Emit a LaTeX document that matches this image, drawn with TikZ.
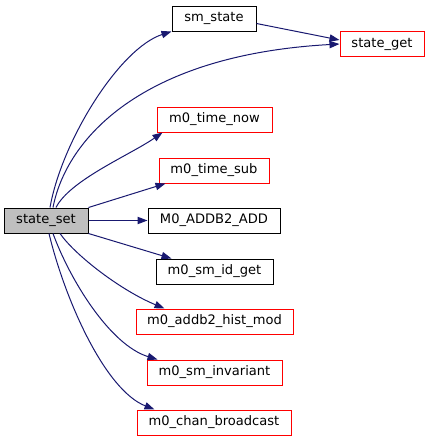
\documentclass[tikz,border=0pt]{standalone}
\usepackage{fontspec}
\setmainfont{DejaVu Sans}
\usetikzlibrary{arrows.meta,calc}
\definecolor{edgeblue}{HTML}{191970}
\definecolor{cur}{HTML}{BFBFBF}
\tikzset{
  fn/.style={draw=black,line width=0.75pt,fill=white,minimum height=18.75pt,inner sep=0pt,
    font=\fontsize{9.8pt}{11pt}\selectfont},
  fnred/.style={fn,draw=red},
  wd/.style={minimum width=#1*0.75pt},
  call/.style={draw=edgeblue,line width=0.75pt,-{Triangle[length=7.5pt,width=5.5pt]}}
}
\begin{document}
\begin{tikzpicture}[x=0.75pt,y=-0.75pt]
\useasboundingbox (0,0) rectangle (429,443);
\node[fn,fill=cur,wd=84] (ss) at (46,220.5) {state\_set};
\node[fn,wd=84] (sms) at (214,18.5) {sm\_state};
\node[fnred,wd=84] (sg) at (382,44) {state\_get};
\node[fnred,wd=115] (tn) at (214.5,119.5) {m0\_time\_now};
\node[fnred,wd=110] (ts) at (214,170.5) {m0\_time\_sub};
\node[fn,wd=132] (add) at (214,220.5) {M0\_ADDB2\_ADD};
\node[fn,wd=117] (sid) at (214.5,271.5) {m0\_sm\_id\_get};
\node[fnred,wd=157] (hm) at (214.5,321.5) {m0\_addb2\_hist\_mod};
\node[fnred,wd=135] (inv) at (214.5,372.5) {m0\_sm\_invariant};
\node[fnred,wd=154] (cb) at (214,422.5) {m0\_chan\_broadcast};

\draw[call] ($(ss.north)+(4,0)$) .. controls (62,140) and (120,48) .. (sms.south west);
\draw[call] ($(ss.north)+(7,0)$) .. controls (66,140) and (140,55) .. (sg.west);
\draw[call] ($(sms.east)+(0,5)$) -- ($(sg.west)+(0,-4)$);
\draw[call] ($(ss.north)+(10,0)$) .. controls (70,180) and (130,155) .. ($(tn.south west)+(6,0)$);
\draw[call] (ss.north east) -- ($(ts.south west)+(7,0)$);
\draw[call] (ss.east) -- (add.west);
\draw[call] (ss.south east) -- ($(sid.north west)+(16,0)$);
\draw[call] ($(ss.south)+(14,0)$) .. controls (75,255) and (120,290) .. ($(hm.north west)+(29,0)$);
\draw[call] ($(ss.south)+(7,0)$) .. controls (70,280) and (110,345) .. ($(inv.north west)+(11,0)$);
\draw[call] ($(ss.south)+(3,0)$) .. controls (65,300) and (105,390) .. ($(cb.north west)+(18,0)$);
\end{tikzpicture}
\end{document}
